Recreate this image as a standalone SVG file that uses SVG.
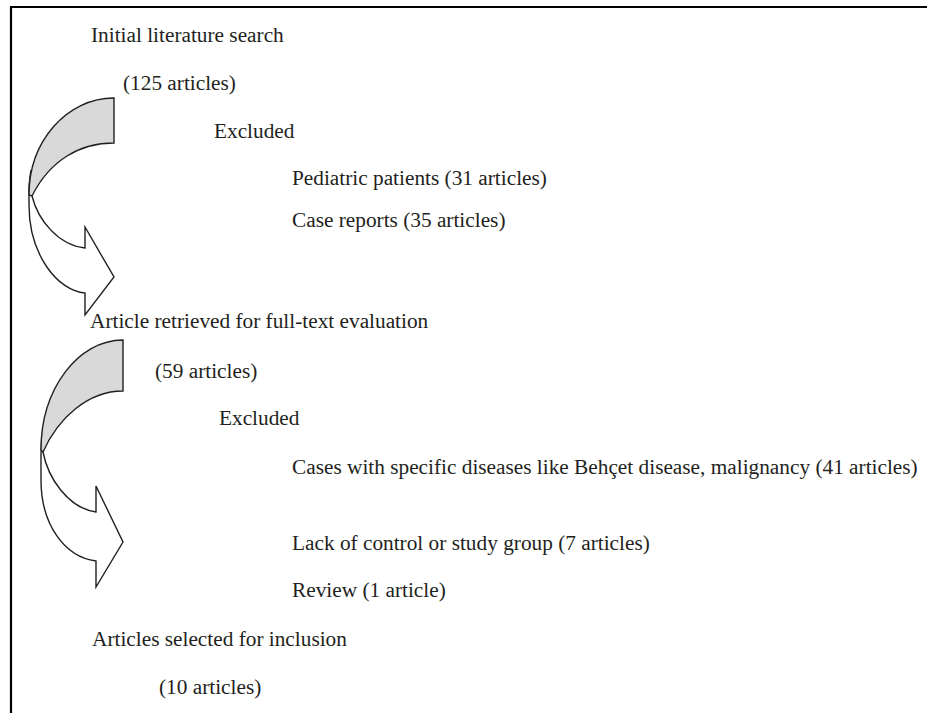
<svg xmlns="http://www.w3.org/2000/svg" width="927" height="713" viewBox="0 0 927 713">
<style>
text { font-family: "Liberation Serif", "Times New Roman", serif; font-size: 21.3px; fill: #231f20; }
.frame { fill: none; stroke: #000; stroke-width: 2.2; }
.back { fill: #d9d9d9; stroke: #231f20; stroke-width: 1.4; stroke-linejoin: miter; }
.front { fill: #fff; stroke: #231f20; stroke-width: 1.4; stroke-linejoin: miter; }
</style>
<rect width="927" height="713" fill="#fff"/>
<path class="frame" d="M11,713 V7 H927"/>
<g id="connectors">
  <g id="arrow1">
    <path class="front" d="M32,196 C38,220 58,245 85,248 L85,227 L114,277 L85,315 L85,293 C58,291 29,255 29,205 L29,190 C29,182 30,176 31,170"/>
    <path class="back" d="M114,98 C67,98 29,141 29,195 L32,196 C50,160 80,143 114,143 Z"/>
  </g>
  <g id="arrow2">
    <path class="front" d="M43,452 C48,478 68,508 96,512 L96,486 L123,542 L96,587 L96,561 C65,557 41,525 41,480 L41,455 C41,445 42,435 43,428"/>
    <path class="back" d="M123,340 C78,340 41,389 41,450 L43,452 C58,418 88,391 123,391 Z"/>
  </g>
</g>
<g id="n-initial"><text x="91" y="42">Initial literature search</text></g>
<g id="n-125"><text x="123" y="90">(125 articles)</text></g>
<g id="n-excluded1"><text x="214" y="138">Excluded</text></g>
<g id="n-pediatric"><text x="292" y="185">Pediatric patients (31 articles)</text></g>
<g id="n-case"><text x="292" y="227">Case reports (35 articles)</text></g>
<g id="n-retrieved"><text x="90" y="328">Article retrieved for full-text evaluation</text></g>
<g id="n-59"><text x="155" y="378">(59 articles)</text></g>
<g id="n-excluded2"><text x="219" y="425">Excluded</text></g>
<g id="n-specific"><text x="292" y="474">Cases with specific diseases like Behçet disease, malignancy (41 articles)</text></g>
<g id="n-lack"><text x="292" y="550">Lack of control or study group (7 articles)</text></g>
<g id="n-review"><text x="292" y="597">Review (1 article)</text></g>
<g id="n-selected"><text x="92" y="646">Articles selected for inclusion</text></g>
<g id="n-10"><text x="159" y="694">(10 articles)</text></g>
</svg>
